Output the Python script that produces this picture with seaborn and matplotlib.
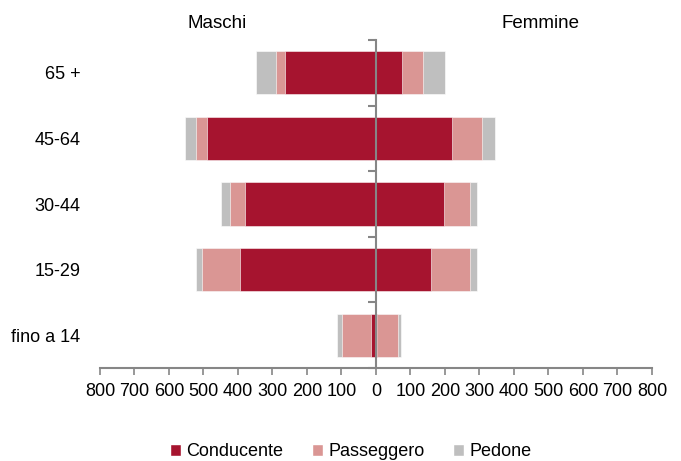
import pandas as pd
import matplotlib
matplotlib.use("Agg")
import matplotlib.pyplot as plt
from matplotlib.patches import Patch
import seaborn as sns

# Data
classi = ["65 +", "45-64", "30-44", "15-29", "fino a 14"]
maschi_conducente = [265, 489, 379, 394, 14]
maschi_passeggero = [25, 33, 45, 110, 85]
maschi_pedone = [58, 31, 24, 18, 14]
femmine_conducente = [76, 220, 198, 160, 2]
femmine_passeggero = [61, 87, 75, 113, 61]
femmine_pedone = [64, 37, 19, 19, 10]

colori = {"Conducente": "#A6142F", "Passeggero": "#DA9694", "Pedone": "#BFBFBF"}

sns.set_style("white")
plt.rcParams["font.family"] = ["Liberation Sans", "DejaVu Sans"]
plt.rcParams["text.color"] = "black"
plt.rcParams["xtick.labelcolor"] = "black"
plt.rcParams["ytick.labelcolor"] = "black"

df = pd.DataFrame({
    "classe": classi,
    "m_cond": maschi_conducente, "m_pass": maschi_passeggero, "m_ped": maschi_pedone,
    "f_cond": femmine_conducente, "f_pass": femmine_passeggero, "f_ped": femmine_pedone,
})
# cumulative sums for stacking (males negative)
df["m1"] = -df["m_cond"]
df["m2"] = -(df["m_cond"] + df["m_pass"])
df["m3"] = -(df["m_cond"] + df["m_pass"] + df["m_ped"])
df["f1"] = df["f_cond"]
df["f2"] = df["f_cond"] + df["f_pass"]
df["f3"] = df["f_cond"] + df["f_pass"] + df["f_ped"]

fig = plt.figure(figsize=(6.81, 4.61), dpi=100)
ax = fig.add_axes([0.1468, 0.2017, 0.8106, 0.7115])

layers = [("m3", "f3", "Pedone"), ("m2", "f2", "Passeggero"), ("m1", "f1", "Conducente")]
for mcol, fcol, nome in layers:
    for col in (mcol, fcol):
        sns.barplot(data=df, x=col, y="classe", order=classi, color=colori[nome],
                    orient="h", width=0.66, saturation=1, ax=ax,
                    edgecolor="white", linewidth=0.4)

ax.set_xlim(-800, 800)
ax.set_ylim(4.5, -0.5)
ax.set_xlabel("")
ax.set_ylabel("")

ticks = list(range(-800, 801, 100))
ax.set_xticks(ticks)
ax.set_xticklabels([str(abs(t)) for t in ticks], fontsize=13)
ax.tick_params(axis="x", direction="out", length=5, width=1.2, color="#868686",
               bottom=True, pad=6)
ax.tick_params(axis="y", length=0, labelsize=13, pad=14)

for s in ["top", "right", "left"]:
    ax.spines[s].set_visible(False)
ax.spines["bottom"].set_color("#868686")
ax.spines["bottom"].set_linewidth(1.5)

# central axis with separators between classes
sec = ax.secondary_yaxis(0.5)
sec.set_zorder(5)
sec.set_yticks([i - 0.5 for i in range(len(classi) + 1)])
sec.set_yticklabels([])
sec.tick_params(direction="in", length=6, width=1.5, color="#868686")
for s in sec.spines.values():
    s.set_color("#868686")
    s.set_linewidth(1.5)

fig.text(0.319, 0.95, "Maschi", ha="center", va="center", fontsize=13.5)
fig.text(0.794, 0.95, "Femmine", ha="center", va="center", fontsize=13.5)

handles = [Patch(facecolor=colori[k], label=k) for k in ["Conducente", "Passeggero", "Pedone"]]
fig.legend(handles=handles, loc="center", bbox_to_anchor=(0.515, 0.02), ncol=3,
           frameon=False, fontsize=13, handlelength=0.6, handleheight=0.6,
           handletextpad=0.3, columnspacing=1.6)

fig.savefig("out.png", dpi=100)
